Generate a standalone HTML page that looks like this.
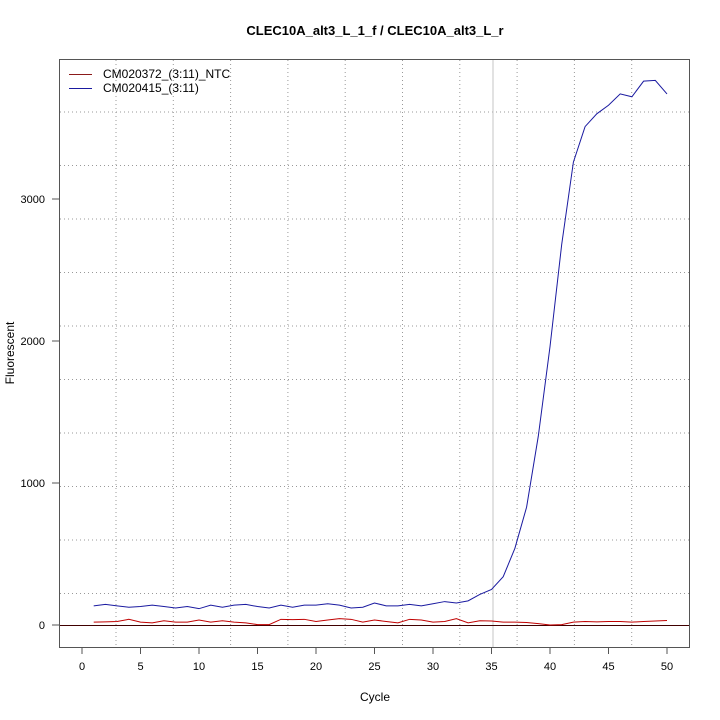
<!DOCTYPE html>
<html><head><style>body{margin:0;background:#fff}svg{display:block}text{font-family:"Liberation Sans",sans-serif;fill:#000}</style></head>
<body>
<svg id="s" width="720" height="720" xmlns="http://www.w3.org/2000/svg">
<rect width="720" height="720" fill="#fff"/>
<text x="375" y="35" font-size="13" font-weight="bold" text-anchor="middle">CLEC10A_alt3_L_1_f / CLEC10A_alt3_L_r</text>
<g id="grid" stroke="#999" stroke-width="1" stroke-dasharray="1,3"></g>
<line x1="493" y1="59" x2="493" y2="647" stroke="#c4c4c4" stroke-width="1"/>
<line x1="59" y1="625.5" x2="689" y2="625.5" stroke="#400000" stroke-width="1"/>
<g id="ser" fill="none" stroke-width="1"></g>
<rect x="59.5" y="59.5" width="630" height="588" fill="none" stroke="#555" stroke-width="1"/>
<g id="ax" font-size="11"></g>
<text x="375" y="701" font-size="12" text-anchor="middle">Cycle</text>
<text transform="translate(14,353) rotate(-90)" font-size="12" text-anchor="middle">Fluorescent</text>
<line x1="69" y1="74.5" x2="92" y2="74.5" stroke="#8b1a1a"/>
<line x1="69" y1="88.5" x2="92" y2="88.5" stroke="#1a1aa0"/>
<text x="103" y="78" font-size="12">CM020372_(3:11)_NTC</text>
<text x="103" y="92" font-size="12">CM020415_(3:11)</text>
</svg>
<script>
var NS="http://www.w3.org/2000/svg";
function el(p,t,a){var e=document.createElementNS(NS,t);for(var k in a)e.setAttribute(k,a[k]);p.appendChild(e);return e;}
var g=document.getElementById('grid');
for(var i=0;i<10;i++){var x=116+57.3*i;el(g,'line',{x1:x,y1:60,x2:x,y2:647});}
for(var i=0;i<10;i++){var y=112+53.5*i;el(g,'line',{x1:60,y1:y,x2:689,y2:y});}
var X=function(c){return 82+11.7*c},Y=function(v){return 625-0.142*v};
var ax=document.getElementById('ax');
for(var c=0;c<=50;c+=5){el(ax,'line',{x1:X(c),y1:647,x2:X(c),y2:654,stroke:'#555'});var t=el(ax,'text',{x:X(c),y:670,'text-anchor':'middle'});t.textContent=c;}
[0,1000,2000,3000].forEach(function(v){el(ax,'line',{x1:52,y1:Y(v),x2:59,y2:Y(v),stroke:'#555'});var t=el(ax,'text',{x:45,y:Y(v)+4,'text-anchor':'end'});t.textContent=v;});
var b=[135,145,135,125,130,140,130,120,130,115,140,125,140,145,130,120,140,125,140,140,150,140,120,125,155,135,135,145,135,150,165,155,170,215,250,340,540,830,1330,1960,2680,3260,3510,3600,3660,3740,3720,3830,3835,3740];
var r=[20,22,25,40,20,15,30,20,20,35,20,30,20,15,3,3,40,38,40,25,35,45,40,20,35,25,15,40,35,20,25,45,15,30,28,20,20,18,10,0,3,20,25,22,25,25,20,25,28,32];
var s=document.getElementById('ser');
function pl(d,col){el(s,'polyline',{points:d.map(function(v,i){return X(i+1)+','+Y(v)}).join(' '),stroke:col});}
pl(r,'#c00000');pl(b,'#1a1aa0');
</script>
</body></html>
